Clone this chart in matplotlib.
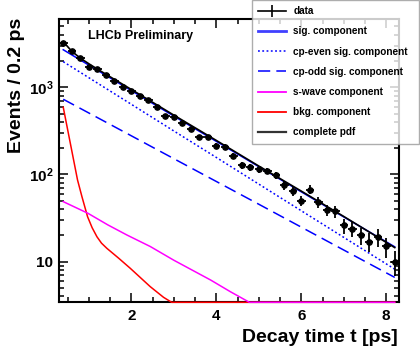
import numpy as np
import matplotlib
matplotlib.use("Agg")
import matplotlib.pyplot as plt
from matplotlib.lines import Line2D
from matplotlib.ticker import LogLocator, NullFormatter, MultipleLocator

plt.rcParams['font.family'] = ['Liberation Sans', 'DejaVu Sans']
plt.rcParams['mathtext.fontset'] = 'custom'
plt.rcParams['mathtext.rm'] = 'Liberation Sans:bold'
plt.rcParams['mathtext.it'] = 'Liberation Sans:bold'
plt.rcParams['mathtext.bf'] = 'Liberation Sans:bold'

# ---- data ----
t_data = [0.4, 0.6, 0.8, 1.0, 1.2, 1.4, 1.6, 1.8, 2.0, 2.2, 2.4, 2.6, 2.8, 3.0,
          3.2, 3.4, 3.6, 3.8, 4.0, 4.2, 4.4, 4.6, 4.8, 5.0, 5.2, 5.4, 5.6, 5.8,
          6.0, 6.2, 6.4, 6.6, 6.8, 7.0, 7.2, 7.4, 7.6, 7.8, 8.0, 8.2]
counts = [3255, 2614, 2154, 1725, 1602, 1366, 1181, 1000, 895, 805, 709, 594,
          474, 456, 386, 329, 271, 266, 214, 208, 164, 128, 121, 115, 110, 98,
          76, 65, 50, 67, 48, 39, 38, 26, 24, 20, 17, 19, 15, 10]
count_err = [57, 51, 46, 42, 40, 37, 34, 32, 30, 28, 27, 24, 22, 21, 20, 18, 16,
             16, 15, 14, 13, 11, 11, 11, 10, 10, 9, 8, 7, 8, 7, 6, 6, 5, 5, 4.5,
             4.1, 4.4, 3.9, 3.2]
bin_half = 0.1

t_curve = [0.4, 1.0, 2.0, 3.0, 4.0, 5.0, 6.0, 7.0, 8.2]
cp_even = [1966, 1290, 639, 316, 157, 77.6, 38.4, 19.0, 8.2]
cp_odd = [729, 508, 278, 152, 83.2, 45.6, 24.9, 13.6, 6.6]
sig_total = [2695, 1798, 917, 468, 240, 123, 63.3, 32.6, 14.8]

t_swave = [0.4, 0.98, 1.45, 1.9, 2.45, 3.0, 3.87, 4.33, 4.78, 8.2]
swave = [48.8, 35.9, 26.4, 20.2, 14.9, 10.4, 6.15, 4.53, 3.42, 3.42]

t_bkg = [0.4, 0.736, 0.84, 0.972, 1.08, 1.193, 1.3, 1.428, 1.7, 1.976, 2.447, 2.76, 2.95, 8.2]
bkg = [590, 86.5, 55.6, 32.8, 24.5, 19.3, 16.3, 14.2, 11.0, 8.4, 5.17, 3.9, 3.42, 3.42]

t_pdf = [0.4, 0.6, 0.8, 1.0, 1.2, 1.5, 2.0, 2.5, 3.0, 4.0, 5.0, 6.0, 7.0, 8.2]
pdf = [3333, 2591, 2162, 1865, 1620, 1322, 945, 674, 480, 246, 125, 64.5, 33, 14.5]

legend_labels = ["data", "sig. component", "cp-even sig. component",
                 "cp-odd sig. component", "s-wave component",
                 "bkg. component", "complete pdf"]

xlim = (0.3, 8.3)
ylim = (3.42, 6070)

fig = plt.figure(figsize=(4.2, 3.6), dpi=100)
ax = fig.add_axes([59/420, 1-302.3/360, 340/420, (302.3-19)/360])

ax.plot(t_curve, sig_total, color='blue', lw=1.1, zorder=3)
ax.plot(t_curve, cp_even, color='blue', lw=1.1, ls=(0, (1.2, 1.6)), zorder=3)
ax.plot(t_curve, cp_odd, color='blue', lw=1.1, ls=(0, (8, 4)), zorder=3)
ax.plot(t_bkg, bkg, color='red', lw=1.1, zorder=3, clip_on=False)
ax.plot(t_swave, swave, color='magenta', lw=1.1, zorder=3.1, clip_on=False)
ax.plot(t_pdf, pdf, color='black', lw=1.2, zorder=4)
ax.errorbar(t_data, counts, yerr=count_err, xerr=bin_half, fmt='o', color='black',
            ms=3.8, elinewidth=1.3, capsize=0, zorder=5, clip_on=False)

ax.set_yscale('log')
ax.set_xlim(*xlim)
ax.set_ylim(*ylim)

ax.set_xticks([2, 4, 6, 8])
ax.set_xticklabels(['2', '4', '6', '8'])
ax.xaxis.set_minor_locator(MultipleLocator(0.5))
ax.set_yticks([10, 100, 1000])
ax.set_yticklabels(['10', r'$10^{2}$', r'$10^{3}$'])
ax.yaxis.set_minor_locator(LogLocator(base=10, subs=range(2, 10)))
ax.yaxis.set_minor_formatter(NullFormatter())

ax.tick_params(which='both', direction='in', top=True, right=True, width=1.1, color='black')
ax.tick_params(which='major', length=6.5)
ax.tick_params(which='minor', length=3.6)
ax.tick_params(axis='x', which='major', pad=5)
ax.tick_params(axis='y', which='major', pad=4)
for lab in ax.get_xticklabels() + ax.get_yticklabels():
    lab.set_fontsize(11)
    lab.set_fontweight('bold')
for sp in ax.spines.values():
    sp.set_linewidth(1.5)

fig.text(17/420, 1-18/360, "Events / 0.2 ps", rotation=90, ha='center', va='top',
         fontsize=14, fontweight='bold')
fig.text(398/420, 1-341.7/360, "Decay time t [ps]", ha='right', va='baseline',
         fontsize=14, fontweight='bold')
fig.text(88/420, 1-36/360, "LHCb Preliminary", ha='left', va='center',
         fontsize=9, fontweight='bold')

handles = [
    Line2D([], [], color='black', lw=1.2, marker='|', ms=9, mew=1.2),
    Line2D([], [], color='#4040ff', lw=2),
    Line2D([], [], color='blue', lw=1.1, ls=(0, (1.2, 1.6))),
    Line2D([], [], color='blue', lw=1.1, ls=(0, (8, 4))),
    Line2D([], [], color='magenta', lw=1.3),
    Line2D([], [], color='red', lw=1.3),
    Line2D([], [], color='#333333', lw=1.6),
]
leg = fig.legend(handles, legend_labels, loc='upper left',
                 bbox_to_anchor=(252/420, 0, 167/420, 1.0), mode='expand',
                 frameon=True, fancybox=False, borderaxespad=0,
                 prop={'size': 7.2, 'weight': 'bold'}, handlelength=2.8,
                 handletextpad=0.7, labelspacing=1.02, borderpad=0.62)
leg.get_frame().set_edgecolor('#999999')
leg.get_frame().set_linewidth(1.0)

fig.savefig("out.png", dpi=100)
